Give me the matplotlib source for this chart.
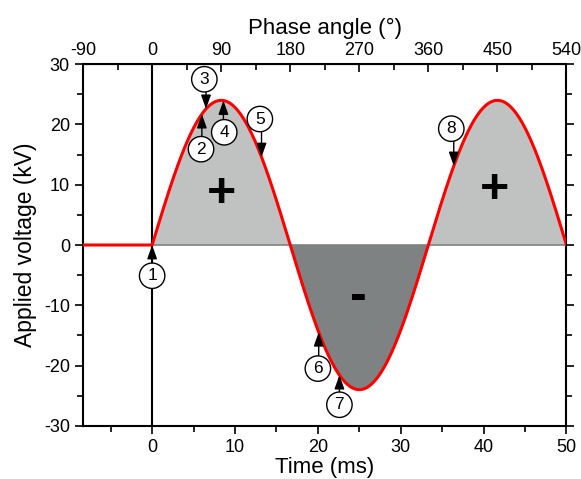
import numpy as np
import matplotlib
matplotlib.use("Agg")
import matplotlib.pyplot as plt

plt.rcParams["font.family"] = ["Liberation Sans", "DejaVu Sans"]
plt.rcParams["axes.unicode_minus"] = False

# sine waveform, 30 Hz, 24 kV peak
period = 100.0 / 3  # ms
amplitude = 24.0
t_end = 50.0
t_start = -period / 4

# numbered markers: arrow tip time, circle position (time, voltage)
marker_labels = ["1", "2", "3", "4", "5", "6", "7", "8"]
marker_t = [0.0, 6.0, 6.5, 8.6, 13.2, 20.1, 22.6, 36.4]
marker_circle_t = [0.0, 5.9, 6.3, 8.7, 13.0, 20.0, 22.6, 36.1]
marker_circle_v = [-5.1, 15.9, 27.5, 18.7, 20.9, -20.5, -26.5, 19.3]

sign_text = ["+", "-", "+"]
sign_t = [8.4, 24.9, 41.3]
sign_v = [8.4, -8.6, 9.2]

t = np.linspace(0, t_end, 1500)
v = amplitude * np.sin(2 * np.pi * t / period)

fig = plt.figure(figsize=(5.81, 4.79), dpi=100)
ax = fig.add_axes([0.143, 0.111, 0.832, 0.755])

ax.fill_between(t, 0, v, where=v >= 0, color="#c0c2c1", lw=0, interpolate=True)
ax.fill_between(t, 0, v, where=v <= 0, color="#7f8282", lw=0, interpolate=True)
ax.plot([0, t_end], [0, 0], color="#808080", lw=1.2, zorder=2)
ax.axvline(0, color="black", lw=1.5, zorder=2)
ax.plot(np.r_[t_start, t], np.r_[0, v], color="#ff0000", lw=2.2, zorder=3)

for lab, tt, ct, cv in zip(marker_labels, marker_t, marker_circle_t, marker_circle_v):
    tip = amplitude * np.sin(2 * np.pi * tt / period)
    below = cv < tip
    start_v = cv + (2.0 if below else -2.0)
    ax.annotate("", xy=(tt, tip), xytext=(tt, start_v),
                arrowprops=dict(arrowstyle="-|>,head_length=0.7,head_width=0.25",
                                color="black", lw=1.0,
                                mutation_scale=12, shrinkA=0, shrinkB=0),
                zorder=4)
    ax.text(ct, cv, lab, ha="center", va="center", fontsize=12.5, zorder=5,
            bbox=dict(boxstyle="circle,pad=0.3", fc="white", ec="black", lw=1.0))

for s, st, sv in zip(sign_text, sign_t, sign_v):
    ax.text(st, sv, s, ha="center", va="center", fontsize=36, fontweight="bold")

ax.set_xlim(t_start, t_end)
ax.set_ylim(-30, 30)
ax.set_xticks([0, 10, 20, 30, 40, 50])
ax.set_xticks([-5, 5, 15, 25, 35, 45], minor=True)
ax.set_yticks([-30, -20, -10, 0, 10, 20, 30])
ax.set_yticks([-25, -15, -5, 5, 15, 25], minor=True)
ax.tick_params(which="both", direction="out", labelsize=13, width=1.2)
ax.tick_params(which="major", length=6)
ax.tick_params(which="minor", length=4)
ax.tick_params(axis="y", which="both", right=True, direction="out")
for sp in ax.spines.values():
    sp.set_linewidth(1.5)
ax.set_xlabel("Time (ms)", fontsize=16, labelpad=1)
ax.set_ylabel("Applied voltage (kV)", fontsize=16.5, labelpad=5)

# top axis: phase angle
phase_ticks = [-90, 0, 90, 180, 270, 360, 450, 540]
secax = ax.secondary_xaxis("top", functions=(lambda x: x * 360 / period,
                                             lambda p: p * period / 360))
secax.set_xticks(phase_ticks)
secax.set_xticks([-45, 45, 135, 225, 315, 405, 495], minor=True)
secax.tick_params(which="both", direction="in", labelsize=13, width=1.2)
secax.tick_params(which="major", length=6)
secax.tick_params(which="minor", length=4)
secax.set_xlabel("Phase angle (°)", fontsize=16, labelpad=6)

fig.savefig("out.png", dpi=100)
